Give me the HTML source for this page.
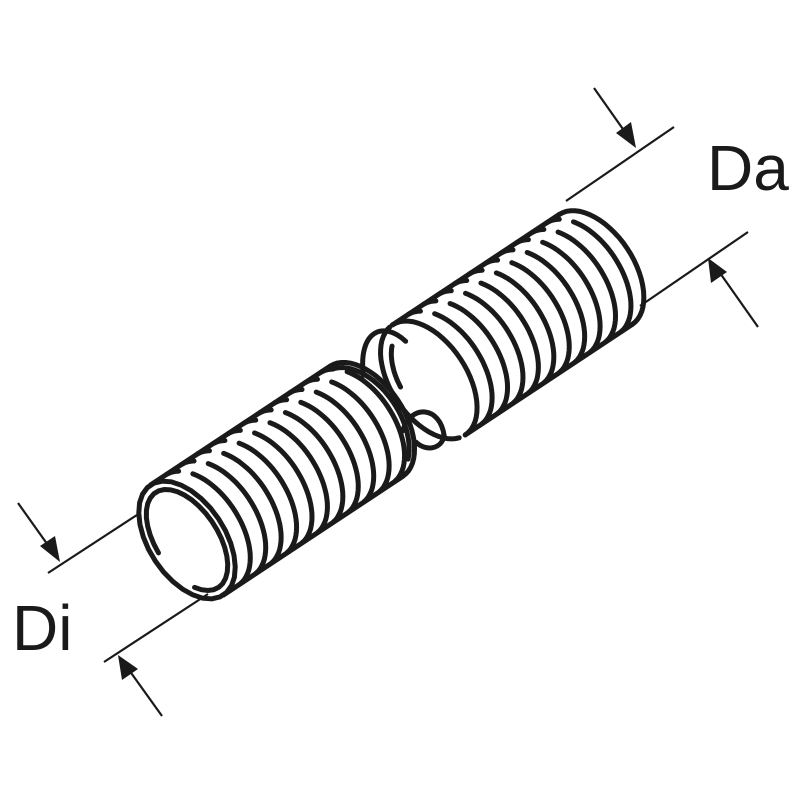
<!DOCTYPE html>
<html><head><meta charset="utf-8"><style>
html,body{margin:0;padding:0;background:#fff;width:800px;height:800px;overflow:hidden}
svg{display:block}
</style></head><body>
<svg id="s" width="800" height="800" viewBox="0 0 800 800" xmlns="http://www.w3.org/2000/svg">
<g stroke="#1a1a1a" stroke-width="2.2" fill="none">
<line x1="48" y1="573" x2="140" y2="513"/>
<line x1="104" y1="662" x2="208" y2="594"/>
<line x1="566" y1="201" x2="674" y2="127"/>
<line x1="640" y1="306" x2="748" y2="232"/>
<line x1="18" y1="503" x2="50" y2="548"/>
<line x1="162" y1="716" x2="129" y2="670"/>
<line x1="594" y1="88" x2="625" y2="132"/>
<line x1="758" y1="327" x2="720" y2="273"/>
</g>
<g fill="#1a1a1a">
<polygon points="60,562 40,546 55,536"/>
<polygon points="118,655 122,680 138,669"/>
<polygon points="636,148 616,133 631,122"/>
<polygon points="708,258 711,283 727,272"/>
</g>
<text x="707" y="190" font-family="Liberation Sans, sans-serif" font-size="64" fill="#1a1a1a">Da</text>
<text x="12" y="650" font-family="Liberation Sans, sans-serif" font-size="64" fill="#1a1a1a">Di</text>
<g id="tube" transform="translate(187,540) rotate(-33.5)" stroke="#1a1a1a" stroke-width="5" fill="none" stroke-linecap="round"></g>
</svg>
<script>
(function(){
var g=document.getElementById('tube');
var p=[];
function arc(cx,rx,ry,a0,a1){var d='';for(var i=0;i<=30;i++){var t=(a0+(a1-a0)*i/30)*Math.PI/180;d+=(i?'L':'M')+(cx+rx*Math.cos(t)).toFixed(1)+','+(ry*Math.sin(t)).toFixed(1);}return d;}
function add(d){p.push('<path d="'+d+'"/>');}
var R=66,rx=38;
// right tube
var a=290,b=490;
add('M'+a+','+(-R)+'L'+b+','+(-R));
add('M'+a+','+R+'L'+b+','+R);
add(arc(b,rx,R,-90,90));
add(arc(a,rx,R,-90,90));
add(arc(a,rx,R,100,265));
add(arc(a+4,rx-6,R-10,-170,-120));
for(var x=a+18;x<b;x+=18.5){add(arc(x,rx,R,-88,-70));add(arc(x,rx,R,-52,86));}
// left tube
a=0;b=215;
add('M'+a+','+(-R)+'L'+b+','+(-R));
add('M'+a+','+R+'L'+b+','+R);
add(arc(b,rx,R,-90,90));
add(arc(b-5,rx,R-3,-80,60));
add(arc(a,rx,R,0,360));
add(arc(a,rx-7,R-9,-175,130));
for(x=a+18;x<b;x+=18.5){add(arc(x,rx,R,-88,-70));add(arc(x,rx,R,-52,86));}
// connecting loops
add('M238,-40 C258,-80 285,-75 292,-45');
add('M240,28 C262,10 285,28 272,55 C262,65 248,58 245,45');
g.innerHTML=p.join('');
})();
</script>
</body></html>
